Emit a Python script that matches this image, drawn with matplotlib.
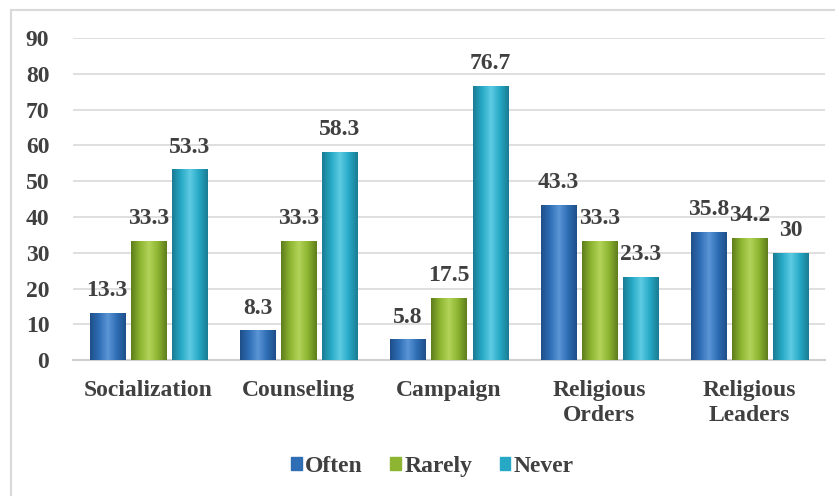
import matplotlib.pyplot as plt
import numpy as np
from matplotlib.colors import LinearSegmentedColormap
from matplotlib.lines import Line2D

categories = ['Socialization', 'Counseling', 'Campaign', 'Religious\nOrders', 'Religious\nLeaders']
often = [13.3, 8.3, 5.8, 43.3, 35.8]
rarely = [33.3, 33.3, 17.5, 33.3, 34.2]
never = [53.3, 58.3, 76.7, 23.3, 30]
series = ['Often', 'Rarely', 'Never']
yticks = [0, 10, 20, 30, 40, 50, 60, 70, 80, 90]

colors = ['#2F6EB5', '#8DB531', '#27A9C6']
dark = ['#1F4F8A', '#5F7E1C', '#1A7C94']
light = ['#5A95D6', '#B3D45A', '#5FCBE3']
txt = '#404040'
fs = 17

plt.rcParams['font.family'] = ['Liberation Serif', 'DejaVu Serif']
plt.rcParams['font.weight'] = 'bold'

fig = plt.figure(figsize=(8.35, 4.96), dpi=100)
ax = fig.add_axes([0.0874, 0.274, 0.9006, 0.649])

x = np.arange(len(categories))
w = 0.233
off = 0.273
grad = np.linspace(0, 1, 64)
for i, (vals, name) in enumerate(zip([often, rarely, never], series)):
    xs = x + (i - 1) * off
    cmap = LinearSegmentedColormap.from_list(name, [dark[i], colors[i], light[i], colors[i], dark[i]])
    bars = ax.bar(xs, vals, w, color=colors[i], label=name, zorder=2)
    for b, v in zip(bars, vals):
        im = ax.imshow(grad[None, :], cmap=cmap, aspect='auto', zorder=3,
                       extent=[b.get_x(), b.get_x() + w, 0, v])
        im.set_clip_path(b)
        ax.text(b.get_x() + w / 2, v + 3.3, f'{v:g}', ha='center', va='bottom',
                fontsize=fs, fontweight='bold', color=txt, zorder=4)

ax.set_xlim(-0.5, 4.5)
ax.set_ylim(0, 90)
ax.set_yticks(yticks)
ax.set_xticks(x)
ax.set_xticklabels(categories, fontsize=fs, fontweight='bold', color=txt, linespacing=1.3)
ax.tick_params(axis='y', labelsize=fs, colors=txt, length=0, pad=17)
ax.tick_params(axis='x', length=0, pad=14)
for lbl in ax.get_yticklabels():
    lbl.set_fontweight('bold')
ax.yaxis.grid(True, color='#D9D9D9', linewidth=1.2, zorder=0)
ax.set_axisbelow(True)
for s in ['top', 'right', 'left']:
    ax.spines[s].set_visible(False)
ax.spines['bottom'].set_color('#D0D0D0')
ax.spines['bottom'].set_linewidth(1.5)

handles = [plt.Rectangle((0, 0), 1, 1, color=c) for c in colors]
fig.legend(handles, series, loc='center', bbox_to_anchor=(0.518, 0.06), ncol=3,
           frameon=False, handlelength=0.45, handleheight=0.45,
           handletextpad=0.15, columnspacing=1.15,
           prop={'weight': 'bold', 'size': fs})
for t in fig.legends[0].get_texts():
    t.set_color(txt)

fig.add_artist(Line2D([11 / 835, 11 / 835], [0, 1 - 10 / 496], color='#D9D9D9', lw=1.5))
fig.add_artist(Line2D([11 / 835, 1], [1 - 10 / 496, 1 - 10 / 496], color='#D9D9D9', lw=1.5))

fig.savefig('out.png', dpi=100)
